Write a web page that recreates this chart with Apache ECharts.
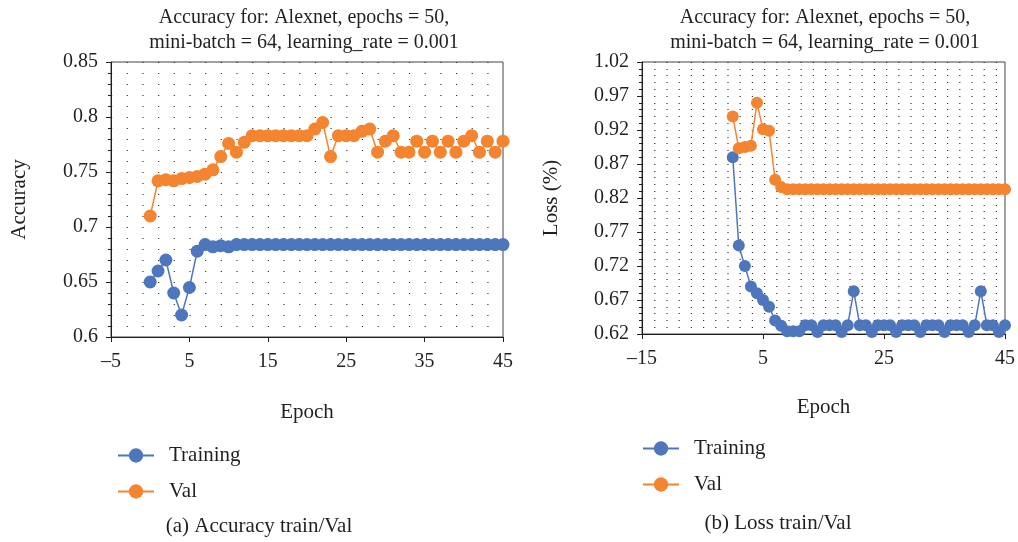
<!DOCTYPE html>
<html>
<head>
<meta charset="utf-8">
<script src="https://cdn.jsdelivr.net/npm/echarts@6/dist/echarts.min.js"></script>
<style>
  html, body { margin: 0; padding: 0; background: #fff; }
  #chart { width: 1018px; height: 542px; }
</style>
</head>
<body>
<div id="chart"></div>
<script>
const epochs = [0, 1, 2, 3, 4, 5, 6, 7, 8, 9, 10, 11, 12, 13, 14, 15, 16, 17, 18, 19, 20, 21, 22,
  23, 24, 25, 26, 27, 28, 29, 30, 31, 32, 33, 34, 35, 36, 37, 38, 39, 40, 41, 42, 43, 44, 45];

const accTraining = [0.65, 0.66, 0.67, 0.64, 0.62, 0.645, 0.678, 0.684, 0.682, 0.683, 0.682, 0.684,
  0.684, 0.684, 0.684, 0.684, 0.684, 0.684, 0.684, 0.684, 0.684, 0.684, 0.684, 0.684, 0.684,
  0.684, 0.684, 0.684, 0.684, 0.684, 0.684, 0.684, 0.684, 0.684, 0.684, 0.684, 0.684, 0.684,
  0.684, 0.684, 0.684, 0.684, 0.684, 0.684, 0.684, 0.684];
const accVal = [0.71, 0.742, 0.743, 0.742, 0.744, 0.745, 0.746, 0.748, 0.752, 0.764, 0.776, 0.768,
  0.777, 0.783, 0.783, 0.783, 0.783, 0.783, 0.783, 0.783, 0.783, 0.789, 0.795, 0.764, 0.783,
  0.783, 0.783, 0.787, 0.789, 0.768, 0.778, 0.783, 0.768, 0.768, 0.778, 0.768, 0.778, 0.768,
  0.778, 0.768, 0.778, 0.783, 0.768, 0.778, 0.768, 0.778];

const lossTraining = [0.88, 0.75, 0.72, 0.69, 0.68, 0.67, 0.66, 0.64, 0.632, 0.624, 0.624, 0.624,
  0.633, 0.633, 0.623, 0.633, 0.633, 0.633, 0.623, 0.633, 0.683, 0.633, 0.633, 0.623, 0.633,
  0.633, 0.633, 0.623, 0.633, 0.633, 0.633, 0.623, 0.633, 0.633, 0.633, 0.623, 0.633, 0.633,
  0.633, 0.623, 0.633, 0.683, 0.633, 0.633, 0.623, 0.633];
const lossVal = [0.94, 0.893, 0.895, 0.897, 0.96, 0.921, 0.919, 0.847, 0.836, 0.833, 0.833, 0.833,
  0.833, 0.833, 0.833, 0.833, 0.833, 0.833, 0.833, 0.833, 0.833, 0.833, 0.833, 0.833, 0.833,
  0.833, 0.833, 0.833, 0.833, 0.833, 0.833, 0.833, 0.833, 0.833, 0.833, 0.833, 0.833, 0.833,
  0.833, 0.833, 0.833, 0.833, 0.833, 0.833, 0.833, 0.833];

const titleText = "Accuracy for: Alexnet, epochs = 50,\nmini-batch = 64, learning_rate = 0.001";

const blue = "#4e76bd";
const orange = "#f4842f";
const ink = "#231f20";
const font = "'Liberation Serif', 'DejaVu Serif', serif";

function pairs(values) {
  return epochs.map((e, i) => [e, values[i]]);
}

// dot lattice: horizontal gridlines dashed so the dots fall on every 2 epochs
function dots(step) {
  return { color: "#333", width: 1.2, type: [1.2, step - 1.2] };
}

function xAxisFor(gridIndex, min, interval, nameGap) {
  return {
    gridIndex,
    type: "value",
    min,
    max: 45,
    interval,
    name: "Epoch",
    nameLocation: "middle",
    nameGap,
    nameTextStyle: { fontFamily: font, fontSize: 21, color: ink },
    axisLine: { onZero: false, lineStyle: { color: ink, width: 1 } },
    axisTick: { show: true, length: 5, lineStyle: { color: ink } },
    axisLabel: { fontFamily: font, fontSize: 20, color: ink, margin: 15,
      formatter: (v) => (v < 0 ? "\u2013" + Math.abs(v) : String(v)) },
    splitLine: { show: false },
  };
}

function yAxisFor(gridIndex, name, min, max, interval, digits, nameGap, step) {
  return {
    gridIndex,
    type: "value",
    min,
    max,
    interval,
    name,
    nameLocation: "middle",
    nameGap,
    nameTextStyle: { fontFamily: font, fontSize: 21, color: ink },
    axisLine: { show: true, onZero: false, lineStyle: { color: ink, width: 1 } },
    axisTick: { show: true, length: 5, lineStyle: { color: ink } },
    axisLabel: { fontFamily: font, fontSize: 20, color: ink, margin: 13,
      formatter: (v) => (digits ? v.toFixed(digits) : String(+v.toFixed(3))) },
    splitLine: { show: true, lineStyle: dots(step) },
    minorTick: { show: true, splitNumber: 5, length: 3, lineStyle: { color: ink } },
    minorSplitLine: { show: true, lineStyle: dots(step) },
  };
}

function lineSeries(name, color, xi, values, size) {
  return {
    name,
    type: "line",
    xAxisIndex: xi,
    yAxisIndex: xi,
    data: pairs(values),
    symbol: "circle",
    symbolSize: size,
    showSymbol: true,
    color,
    lineStyle: { width: 1.5, color },
    itemStyle: { color },
    animation: false,
  };
}

function legendAt(left, top) {
  return {
    data: ["Training", "Val"],
    orient: "vertical",
    left,
    top,
    padding: 0,
    itemWidth: 36,
    itemHeight: 18,
    itemGap: 15,
    selectedMode: false,
    textStyle: { fontFamily: font, fontSize: 21, color: ink, lineHeight: 20, padding: [0, 0, 0, 10] },
  };
}

const chart = echarts.init(document.getElementById("chart"), null, { renderer: "canvas" });

chart.setOption({
  animation: false,
  backgroundColor: "#fff",
  grid: [
    { left: 111, top: 62, width: 392, height: 275, show: true, borderColor: "#444", borderWidth: 1 },
    { left: 642, top: 62, width: 366, height: 272, show: true, borderColor: "#444", borderWidth: 1 },
  ],
  xAxis: [xAxisFor(0, -5, 10, 65), xAxisFor(1, -15, 20, 63)],
  yAxis: [
    yAxisFor(0, "Accuracy", 0.6, 0.85, 0.05, 0, 81, 392 / 25),
    yAxisFor(1, "Loss (%)", 0.62, 1.02, 0.05, 2, 80, 366 / 30),
  ],
  legend: [legendAt(117, 445), legendAt(642, 438)],
  graphic: [
    { type: "text", x: 304, y: 5, style: { text: titleText, textAlign: "center", textVerticalAlign: "top",
      font: "20px " + font, lineHeight: 25, fill: ink } },
    { type: "text", x: 825, y: 5, style: { text: titleText, textAlign: "center", textVerticalAlign: "top",
      font: "20px " + font, lineHeight: 25, fill: ink } },
    { type: "text", x: 259, y: 526, style: { text: "(a) Accuracy train/Val", textAlign: "center",
      textVerticalAlign: "middle", font: "21px " + font, fill: ink } },
    { type: "text", x: 778, y: 523, style: { text: "(b) Loss train/Val", textAlign: "center",
      textVerticalAlign: "middle", font: "21px " + font, fill: ink } },
  ],
  series: [
    lineSeries("Training", blue, 0, accTraining, 13),
    lineSeries("Val", orange, 0, accVal, 13),
    lineSeries("Training", blue, 1, lossTraining, 12),
    lineSeries("Val", orange, 1, lossVal, 12),
  ],
});
</script>
</body>
</html>
